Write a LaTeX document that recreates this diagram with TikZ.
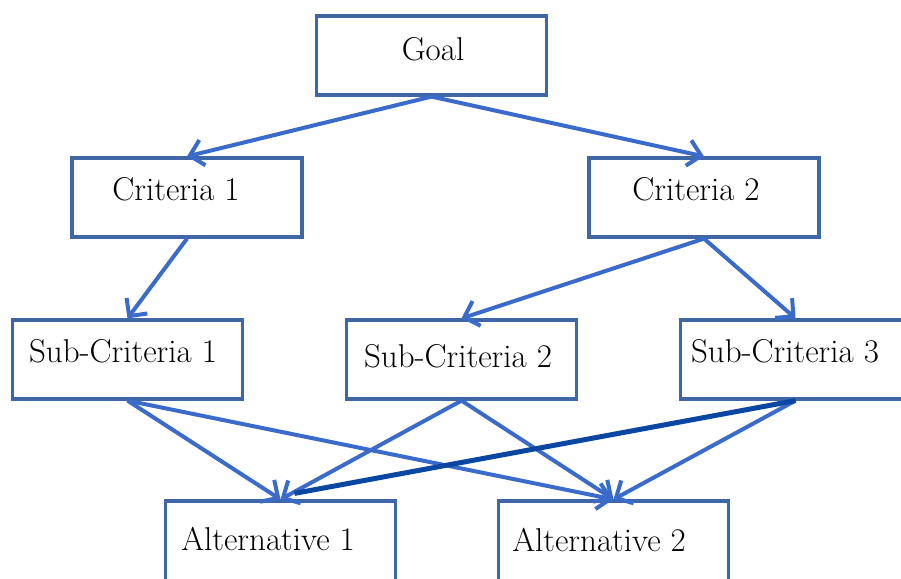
\documentclass[tikz,border=0pt]{standalone}
\usetikzlibrary{arrows.meta,calc}
\definecolor{boxblue}{HTML}{3F67A6}
\definecolor{arrblue}{HTML}{3A6BCB}
\definecolor{darkblue}{HTML}{0A47A3}
\begin{document}
\begin{tikzpicture}[x=1pt,y=-1pt,
  box/.style={draw=boxblue, line width=3.2pt, minimum width=230pt, minimum height=79pt, inner sep=0pt},
  lbl/.style={anchor=base, inner sep=0pt, font=\fontsize{33}{38}\selectfont},
  arr/.style={draw=arrblue, line width=4pt, -{Straight Barb[length=13pt,width=26pt,line width=4pt]}},
  darkline/.style={draw=darkblue, line width=5pt}]
\useasboundingbox (0,0) rectangle (901,578);
\clip (0,0) rectangle (901,578);
\node[box] (goal) at (431.5,55.5) {};
\node[box] (c1) at (187,197.5) {};
\node[box] (c2) at (704,197.5) {};
\node[box] (s1) at (127.5,359.5) {};
\node[box] (s2) at (461.5,359.5) {};
\node[box] (s3) at (795.5,359.5) {};
\node[box, minimum height=86pt] (a1) at (280.5,544) {};
\node[box, minimum height=86pt] (a2) at (613.5,544) {};
\node[lbl] (tgoal) at (433,60) {Goal};
\node[lbl] (tc1) at (176,200) {Criteria 1};
\node[lbl] (tc2) at (696,200) {Criteria 2};
\node[lbl] (ts1) at (123,362) {Sub-Criteria 1};
\node[lbl] (ts2) at (458,367) {Sub-Criteria 2};
\node[lbl] (ts3) at (785,362) {Sub-Criteria 3};
\node[lbl] (ta1) at (268,550) {Alternative 1};
\node[lbl] (ta2) at (599,551) {Alternative 2};
\draw[arr] (goal.south) -- (c1.north);
\draw[arr] (goal.south) -- (c2.north);
\draw[arr] (c1.south) -- (s1.north);
\draw[arr] (c2.south) -- (s2.north);
\draw[arr] (c2.south) -- (s3.north);
\draw[arr] (s1.south) -- (a1.north);
\draw[arr] (s1.south) -- (a2.north);
\draw[arr] (s2.south) -- (a1.north);
\draw[arr] (s2.south) -- (a2.north);
\draw[arr] (s3.south) -- (a2.north);
\coordinate (d1) at ($(a1.north)+(14,-6)$);
\draw[darkline] (s3.south) -- (d1);
\end{tikzpicture}
\end{document}
